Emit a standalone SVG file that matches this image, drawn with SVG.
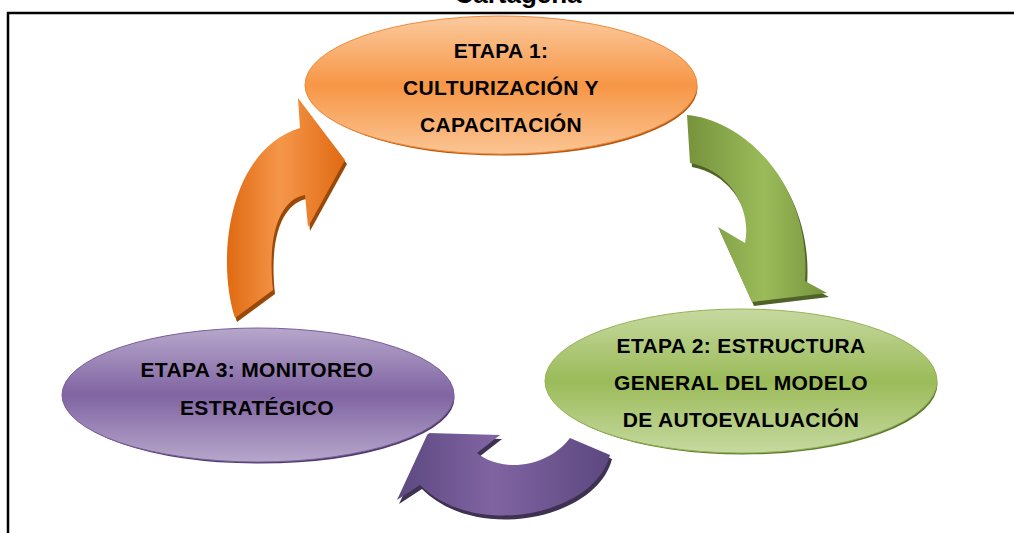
<svg xmlns="http://www.w3.org/2000/svg" width="1014" height="533" viewBox="0 0 1014 533">
<defs>
<style>
.lbl{font-family:"Liberation Sans",Arial,sans-serif;font-weight:bold;font-size:21px;letter-spacing:0.35px;fill:#000;text-anchor:middle}
.title{font-family:"Liberation Sans",Arial,sans-serif;font-weight:bold;font-size:26px;fill:#000;text-anchor:middle}
.frame{stroke:#000;stroke-width:2.5;fill:none}
</style>
<linearGradient id="gOrE" x1="0" y1="0" x2="0" y2="1">
<stop offset="0" stop-color="#FBCA9E"/><stop offset="0.5" stop-color="#F79646"/><stop offset="1" stop-color="#FBC594"/>
</linearGradient>
<linearGradient id="gGrE" x1="0" y1="0" x2="0" y2="1">
<stop offset="0" stop-color="#C6D9A0"/><stop offset="0.5" stop-color="#9BBB59"/><stop offset="1" stop-color="#C6D9A0"/>
</linearGradient>
<linearGradient id="gPuE" x1="0" y1="0" x2="0" y2="1">
<stop offset="0" stop-color="#B7A7CB"/><stop offset="0.5" stop-color="#8064A2"/><stop offset="1" stop-color="#B7A7CB"/>
</linearGradient>
<linearGradient id="gOrA" x1="0" y1="0" x2="1" y2="0">
<stop offset="0" stop-color="#E06A12"/><stop offset="0.45" stop-color="#F5964A"/><stop offset="1" stop-color="#E06A12"/>
</linearGradient>
<linearGradient id="gGrA" x1="0" y1="0" x2="1" y2="0">
<stop offset="0" stop-color="#76933C"/><stop offset="0.55" stop-color="#9BBB59"/><stop offset="1" stop-color="#76933C"/>
</linearGradient>
<linearGradient id="gPuA" x1="0" y1="0" x2="1" y2="0">
<stop offset="0" stop-color="#5C4880"/><stop offset="0.45" stop-color="#8064A2"/><stop offset="1" stop-color="#5C4880"/>
</linearGradient>
</defs>
<rect width="1014" height="533" fill="#fff"/>
<text class="title" x="518" y="3">Cartagena</text>
<path class="frame" d="M8,533 V13 H1014"/>
<g id="connectors">
<g id="arrow-1-2">
<path fill="#4F6228" transform="translate(2,4)" d="M687,115 C745,120 812,185 805,281 L827,293 L752,302 L718,227 L745,243 C752,210 730,170 690,163 Z"/>
<path fill="url(#gGrA)" d="M687,115 C745,120 812,185 805,281 L827,293 L752,302 L718,227 L745,243 C752,210 730,170 690,163 Z"/>
</g>
<g id="arrow-2-3">
<path fill="#3F3151" transform="translate(2,4)" d="M570,438 L610,455 C595,515 475,540 420,485 L397,500 L428,433 L500,435 L477,453 C505,475 550,465 570,438 Z"/>
<path fill="url(#gPuA)" d="M570,438 L610,455 C595,515 475,540 420,485 L397,500 L428,433 L500,435 L477,453 C505,475 550,465 570,438 Z"/>
</g>
<g id="arrow-3-1">
<path fill="#984807" transform="translate(2,4)" d="M235,318 C216,260 228,150 300,128 L298,98 L345,160 L308,227 L305,195 C285,198 266,225 273,290 Z"/>
<path fill="url(#gOrA)" d="M235,318 C216,260 228,150 300,128 L298,98 L345,160 L308,227 L305,195 C285,198 266,225 273,290 Z"/>
</g>
</g>
<g id="node-etapa1">
<ellipse cx="503" cy="88" rx="196" ry="69" fill="#B85A12" stroke="#fff" stroke-width="3"/>
<ellipse cx="501" cy="85" rx="196" ry="69" fill="url(#gOrE)" stroke="#F08A3A" stroke-width="1"/>
<text class="lbl" x="501" y="58">ETAPA 1:</text>
<text class="lbl" x="501" y="95">CULTURIZACIÓN Y</text>
<text class="lbl" x="501" y="132">CAPACITACIÓN</text>
</g>
<g id="node-etapa2">
<ellipse cx="743" cy="384" rx="196" ry="72" fill="#5E7A2C" stroke="#fff" stroke-width="3"/>
<ellipse cx="741" cy="381" rx="196" ry="72" fill="url(#gGrE)" stroke="#93B356" stroke-width="1"/>
<text class="lbl" x="741" y="353">ETAPA 2: ESTRUCTURA</text>
<text class="lbl" x="741" y="390">GENERAL DEL MODELO</text>
<text class="lbl" x="741" y="427">DE AUTOEVALUACIÓN</text>
</g>
<g id="node-etapa3">
<ellipse cx="260" cy="398" rx="196" ry="67" fill="#4E3C6A" stroke="#fff" stroke-width="3"/>
<ellipse cx="258" cy="395" rx="196" ry="67" fill="url(#gPuE)" stroke="#7A5F9C" stroke-width="1"/>
<text class="lbl" x="257" y="377">ETAPA 3: MONITOREO</text>
<text class="lbl" x="257" y="415">ESTRATÉGICO</text>
</g>
</svg>
